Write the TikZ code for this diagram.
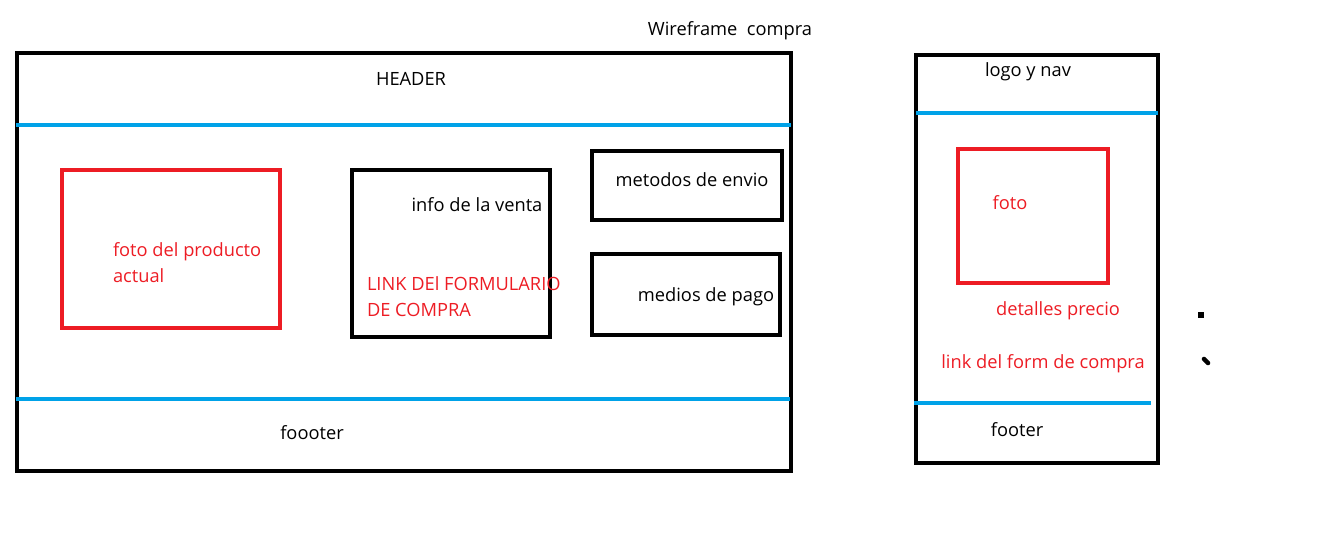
\documentclass[tikz,border=0pt]{standalone}
\usepackage{fontspec}
\setmainfont{Open Sans}
\usepackage{tikz}
\usetikzlibrary{positioning, calc}

\definecolor{paintblue}{HTML}{00A2E8}
\definecolor{paintred}{HTML}{ED1C24}

\tikzset{
    frame/.style={draw=black, line width=2.6pt},
    band/.style={draw=paintblue, line width=2.3pt},
    photo/.style={draw=paintred, line width=2.4pt},
    lbl/.style={inner sep=0pt, font=\fontsize{10.4}{14.7}\selectfont},
    redlbl/.style={lbl, text=paintred, align=left}
}

\begin{document}
\begin{tikzpicture}[x=0.02cm, y=-0.02cm, every node/.style={outer sep=0pt}]
    \useasboundingbox (0,0) rectangle (1327,537);

    % Title
    \node[lbl] (title) at (730,31) {Wireframe\ \ compra};

    % Desktop frame
    \draw[frame] (17,53) rectangle (791,471);
    \draw[band] (16,125) -- (791,125);
    \draw[band] (16,399) -- (790,399);
    \node[lbl] (header) at (411,79) {HEADER};
    \node[lbl] (footer) at (312,433) {foooter};

    % Product photo
    \draw[photo] (62,170) rectangle (280,328);
    \node[redlbl, anchor=west] (fotoprod) at (113,263) {foto del producto\\actual};

    % Sale info
    \draw[frame] (352,170) rectangle (550,337);
    \node[lbl] (info) at (477,205) {info de la venta};
    \node[redlbl, anchor=west] (linkform) at (367,297) {LINK DEl FORMULARIO\\DE COMPRA};

    % Shipping and payment
    \draw[frame] (592,151) rectangle (782,220);
    \node[lbl] (envio) at (692,180) {metodos de envio};
    \draw[frame] (592,254) rectangle (780,335);
    \node[lbl] (pago) at (706,297) {medios de pago};

    % Mobile frame
    \draw[frame] (916,55) rectangle (1158,463);
    \draw[band] (916,113) -- (1158,113);
    \draw[band] (914,403) -- (1151,403);
    \node[lbl] (nav) at (1028,72) {logo y nav};
    \node[lbl] (mfooter) at (1017,430) {footer};

    % Mobile photo
    \draw[photo] (958,149) rectangle (1108,283);
    \node[redlbl] (foto) at (1010,203) {foto};
    \node[redlbl] (precio) at (1058,311) {detalles precio};
    \node[redlbl] (mlink) at (1043,364) {link del form de compra};

    % Stray marks
    \fill (1198,312) rectangle (1204,318);
    \draw[line width=2.6pt, line cap=round] (1204,359) -- (1208,363);
\end{tikzpicture}
\end{document}
